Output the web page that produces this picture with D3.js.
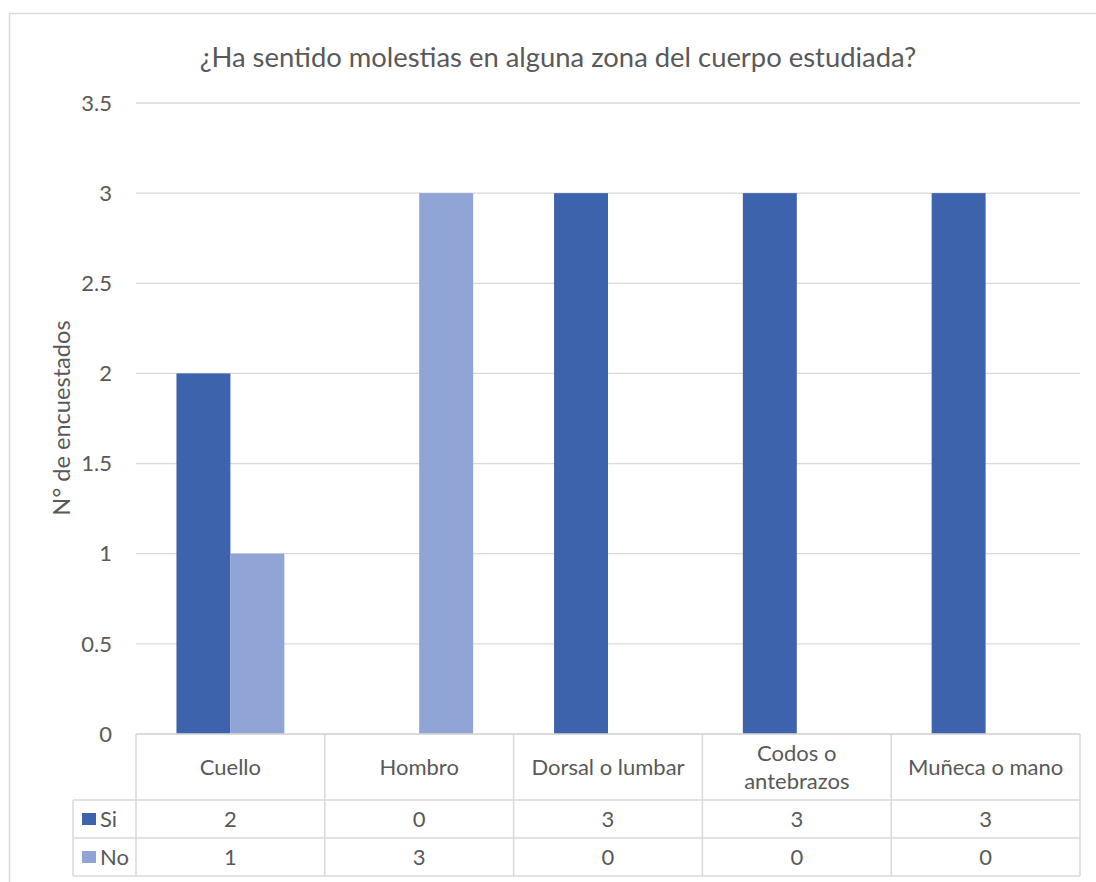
<!DOCTYPE html>
<html><head><meta charset="utf-8">
<script src="https://cdn.jsdelivr.net/npm/d3@7"></script>
<style>body{margin:0;background:#fff;} text{font-family:Lato,"Open Sans",sans-serif;fill:#595959;}</style>
</head><body>
<svg id="c" width="1096" height="882"></svg>
<script>
const categories = ["Cuello", "Hombro", "Dorsal o lumbar", "Codos o antebrazos", "Muñeca o mano"];
const categoryLines = [["Cuello"], ["Hombro"], ["Dorsal o lumbar"], ["Codos o", "antebrazos"], ["Muñeca o mano"]];
const seriesNames = ["Si", "No"];
const siValues = [2, 0, 3, 3, 3];
const noValues = [1, 3, 0, 0, 0];
const yTicks = [0, 0.5, 1, 1.5, 2, 2.5, 3, 3.5];
const yTickLabels = ["0", "0.5", "1", "1.5", "2", "2.5", "3", "3.5"];
const colors = ["#3c63ac", "#90a5d5"];
const title = "¿Ha sentido molestias en alguna zona del cuerpo estudiada?";
const yTitle = "N° de encuestados";

const svg = d3.select("#c");
const grid = "#d9d9d9";
const fs = 22;
// chart border
svg.append("rect").attr("x", 9.5).attr("y", 13.5).attr("width", 1100).attr("height", 890)
  .attr("fill", "none").attr("stroke", grid).attr("stroke-width", 1.5);

const pL = 136, pR = 1080, pT = 103, pB = 734;
const x0 = d3.scaleBand().domain(categories).range([pL, pR]).padding(0);
const bw = x0.bandwidth() / 3.5;
const x1 = d3.scaleBand().domain(seriesNames).range([x0.bandwidth()/2 - bw, x0.bandwidth()/2 + bw]).padding(0);
const y = d3.scaleLinear().domain([0, 3.5]).range([pB, pT]);

// gridlines
svg.append("g").selectAll("line").data(yTicks).join("line")
  .attr("x1", pL).attr("x2", pR).attr("y1", d => y(d)).attr("y2", d => y(d))
  .attr("stroke", grid).attr("stroke-width", 1.3);

// y tick labels
svg.append("g").selectAll("text").data(yTicks).join("text")
  .attr("x", 112).attr("y", d => y(d)).attr("dy", "0.35em").attr("text-anchor", "end")
  .attr("font-size", fs).text((d, i) => yTickLabels[i]);

// bars
const data = [siValues, noValues];
categories.forEach((c, ci) => {
  seriesNames.forEach((s, si) => {
    const v = data[si][ci];
    if (v > 0) svg.append("rect")
      .attr("x", x0(c) + x1(s)).attr("width", x1.bandwidth())
      .attr("y", y(v)).attr("height", y(0) - y(v)).attr("fill", colors[si]);
  });
});

// data table
const rowY = [734, 800, 838, 876];
const tg = svg.append("g").attr("stroke", grid).attr("stroke-width", 1.5);
tg.append("line").attr("x1", pL).attr("x2", pR).attr("y1", rowY[0]).attr("y2", rowY[0]);
[1, 2, 3].forEach(i => tg.append("line").attr("x1", 73).attr("x2", pR).attr("y1", rowY[i]).attr("y2", rowY[i]));
tg.append("line").attr("x1", 73).attr("x2", 73).attr("y1", rowY[1]).attr("y2", rowY[3]);
categories.concat([null]).forEach((c, i) => {
  const xx = c ? x0(c) : pR;
  tg.append("line").attr("x1", xx).attr("x2", xx).attr("y1", rowY[0]).attr("y2", rowY[3]);
});
// category labels
categories.forEach((c, i) => {
  const lines = categoryLines[i];
  const cx = x0(c) + x0.bandwidth() / 2;
  const cy = (rowY[0] + rowY[1]) / 2;
  const lh = 28;
  lines.forEach((l, li) => {
    svg.append("text").attr("x", cx).attr("y", cy + (li - (lines.length - 1) / 2) * lh)
      .attr("dy", "0.35em").attr("text-anchor", "middle").attr("font-size", fs).text(l);
  });
});
// values rows
data.forEach((vals, si) => {
  const cy = (rowY[si + 1] + rowY[si + 2]) / 2;
  svg.append("rect").attr("x", 82).attr("y", cy - 6).attr("width", 14).attr("height", 12).attr("fill", colors[si]);
  svg.append("text").attr("x", 100).attr("y", cy).attr("dy", "0.35em").attr("font-size", fs).text(seriesNames[si]);
  vals.forEach((v, ci) => {
    svg.append("text").attr("x", x0(categories[ci]) + x0.bandwidth() / 2).attr("y", cy)
      .attr("dy", "0.35em").attr("text-anchor", "middle").attr("font-size", fs).text(v);
  });
});

// title
svg.append("text").attr("x", 558).attr("y", 57).attr("dy", "0.35em").attr("text-anchor", "middle")
  .attr("font-size", 27.4).text(title);
// y axis title
svg.append("text").attr("transform", "translate(62,418) rotate(-90)").attr("dy", "0.35em")
  .attr("text-anchor", "middle").attr("font-size", 23.6).text(yTitle);
</script>
</body></html>
